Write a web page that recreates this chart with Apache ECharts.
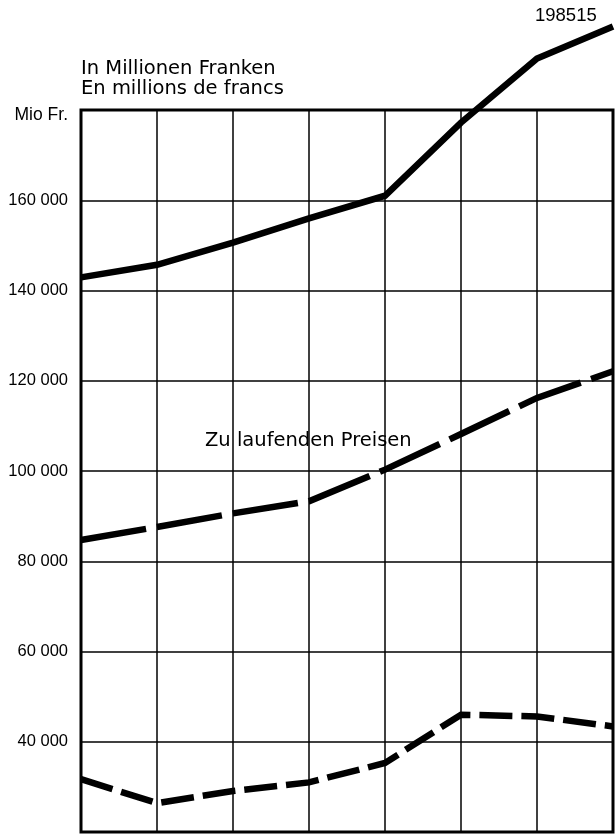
<!DOCTYPE html>
<html>
<head>
<meta charset="utf-8">
<script src="https://cdn.jsdelivr.net/npm/echarts@6/dist/echarts.min.js"></script>
<style>
html,body{margin:0;padding:0;background:#fff;}
#chart{width:615px;height:835px;}
</style>
</head>
<body>
<div id="chart"></div>
<script>
// Categories (unlabelled periods in the original)
var categories = ['1', '2', '3', '4', '5', '6', '7', '8'];
// Upper solid line
var solidValues = [142900, 145700, 150600, 156000, 161000, 177200, 191400, 198515];
// "Zu laufenden Preisen" dashed line
var currentPriceValues = [84700, 87600, 90600, 93300, 100300, 108200, 116200, 122100];
// Lower dashed line
var lowerValues = [31700, 26400, 29100, 31000, 35300, 46000, 45600, 43400];
// Y axis ticks
var yMin = 20000, yMax = 180000, yStep = 20000;
var unitLabel = 'Mio Fr.';
var titleLine1 = 'In Millionen Franken';
var titleLine2 = 'En millions de francs';
var seriesLabel = 'Zu laufenden Preisen';

var FONT = '"Liberation Sans", Arial, Helvetica, sans-serif';
var TFONT = '"DejaVu Sans", sans-serif';

function fmt(v) {
  if (v === yMax) return '{u|' + unitLabel + '}';
  if (v === yMin) return '';
  var s = String(v);
  return s.slice(0, s.length - 3) + ' ' + s.slice(s.length - 3);
}

var chart = echarts.init(document.getElementById('chart'), null, {renderer: 'canvas'});
chart.setOption({
  animation: false,
  backgroundColor: '#fff',
  grid: {
    left: 81, right: 2, top: 110, bottom: 3,
    show: true, borderColor: '#000', borderWidth: 3, backgroundColor: 'transparent'
  },
  xAxis: {
    type: 'category', data: categories, boundaryGap: false,
    axisLine: {show: false}, axisTick: {show: false}, axisLabel: {show: false},
    splitLine: {show: true, lineStyle: {color: '#000', width: 1.5}}
  },
  yAxis: {
    type: 'value', min: yMin, max: yMax, interval: yStep,
    axisLine: {show: false}, axisTick: {show: false},
    axisLabel: {
      formatter: fmt, color: '#000', fontFamily: FONT, fontSize: 16.5, margin: 13,
      rich: {u: {fontFamily: FONT, fontSize: 17.5, color: '#000', padding: [10, 0, 0, 0]}}
    },
    splitLine: {show: true, lineStyle: {color: '#000', width: 1.5}}
  },
  series: [
    {
      type: 'line', data: solidValues, symbol: 'none', clip: false, z: 5,
      lineStyle: {color: '#000', width: 6.5, cap: 'butt', join: 'miter'},
      endLabel: {
        show: true, formatter: function (p) { return String(p.value); },
        color: '#000', fontFamily: FONT, fontSize: 18.5, offset: [-86, -1],
        verticalAlign: 'bottom', align: 'left'
      }
    },
    {
      type: 'line', data: currentPriceValues, symbol: 'none', clip: false, z: 5,
      lineStyle: {color: '#000', width: 6.5, type: [66, 11], cap: 'butt', join: 'miter'}
    },
    {
      type: 'line', data: lowerValues, symbol: 'none', clip: false, z: 5,
      lineStyle: {color: '#000', width: 6.5, type: [33, 9], cap: 'butt', join: 'miter'}
    }
  ],
  graphic: [
    {type: 'text', x: 81, y: 69, style: {text: titleLine1, fill: '#000', font: '19.5px ' + TFONT, verticalAlign: 'middle'}},
    {type: 'text', x: 81, y: 89, style: {text: titleLine2, fill: '#000', font: '19.5px ' + TFONT, verticalAlign: 'middle'}},
    {type: 'text', x: 205, y: 441, style: {text: seriesLabel, fill: '#000', font: '19.5px ' + TFONT, verticalAlign: 'middle'}}
  ]
});
</script>
</body>
</html>
